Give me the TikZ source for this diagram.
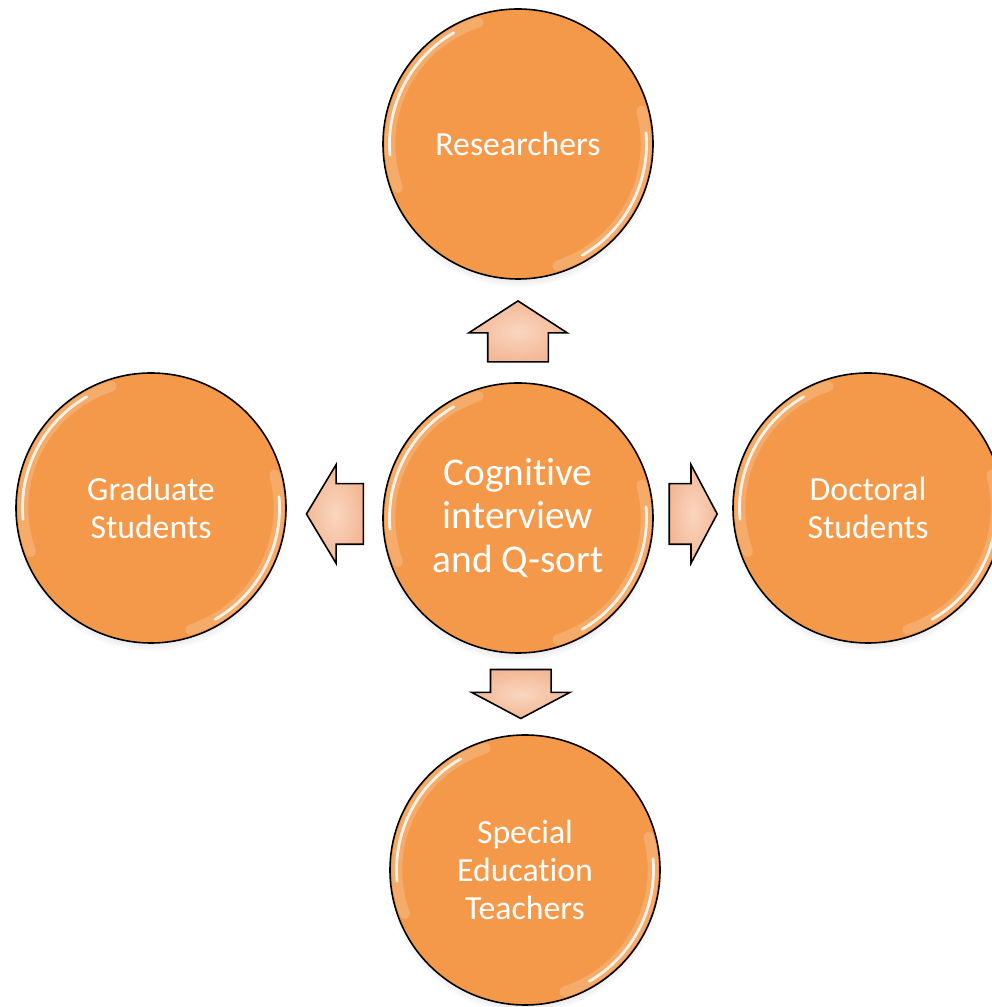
\documentclass[tikz,border=0pt]{standalone}
\usepackage{fontspec}
\setmainfont{Carlito}[RawFeature={-liga;-clig;-calt}]
\usetikzlibrary{shapes.arrows,shadows,calc}
\definecolor{ballorange}{RGB}{244,153,74}
\definecolor{peachlight}{RGB}{250,214,192}
\definecolor{peachdark}{RGB}{243,184,149}

\tikzset{
    gloss/.style={white, line cap=round},
    ball/.style={circle, minimum size=5.4cm, inner sep=0pt, fill=ballorange, draw=black, line width=0.9pt,
        text=white, align=center, font=\fontsize{19.2}{21.6}\selectfont,
        circular drop shadow={shadow xshift=0pt, shadow yshift=-3pt, shadow scale=1.02, opacity=0.4},
        path picture={
            \draw[gloss, opacity=0.18, line width=6pt]
                ([shift={(108:2.56)}]path picture bounding box.center) arc[start angle=108, end angle=200, radius=2.56];
            \draw[gloss, opacity=0.85, line width=1.6pt]
                ([shift={(120:2.57)}]path picture bounding box.center) arc[start angle=120, end angle=185, radius=2.57];
            \draw[gloss, opacity=0.18, line width=6pt]
                ([shift={(-72:2.56)}]path picture bounding box.center) arc[start angle=-72, end angle=15, radius=2.56];
            \draw[gloss, opacity=0.85, line width=1.6pt]
                ([shift={(-60:2.57)}]path picture bounding box.center) arc[start angle=-60, end angle=5, radius=2.57];
        }},
    blockarrow/.style={single arrow, draw=black, line width=0.9pt, inner sep=0pt,
        single arrow head extend=0.38cm, single arrow tip angle=118,
        inner color=peachlight, outer color=peachdark},
    across/.style={inner ysep=0.59cm, inner xsep=0pt},
    upright/.style={inner xsep=0.59cm, inner ysep=0pt}
}

\begin{document}
\begin{tikzpicture}
    \useasboundingbox (0,0) rectangle (19.84,20.14);

    \node [ball, font=\fontsize{22.4}{25}\selectfont] (C) at (10.36,9.78) {Cognitive\\interview\\and Q-sort};
    \node [ball] (R) at (10.36,17.26) {Researchers};
    \node [ball] (G) at (3.02,9.98) {Graduate\\Students};
    \node [ball] (D) at (17.36,9.98) {Doctoral\\Students};
    \node [ball] (S) at (10.50,2.74) {Special\\Education\\Teachers};

    \node [blockarrow, upright, shape border rotate=90, minimum height=1.22cm, single arrow tip angle=114] (toR) at ($(C.north)!0.4!(R.south)$) {};
    \node [blockarrow, across, shape border rotate=180, minimum height=1.14cm] (toG) at ($(C.west)!0.4!(G.east)$) {};
    \node [blockarrow, across, shape border rotate=0, minimum height=0.96cm, single arrow tip angle=124] (toD) at ($(C.east)!0.4!(D.west)$) {};
    \node [blockarrow, upright, shape border rotate=270, minimum height=0.98cm, single arrow tip angle=124] (toS) at ($(C.south)!0.4!(S.north)$) {};
\end{tikzpicture}
\end{document}
